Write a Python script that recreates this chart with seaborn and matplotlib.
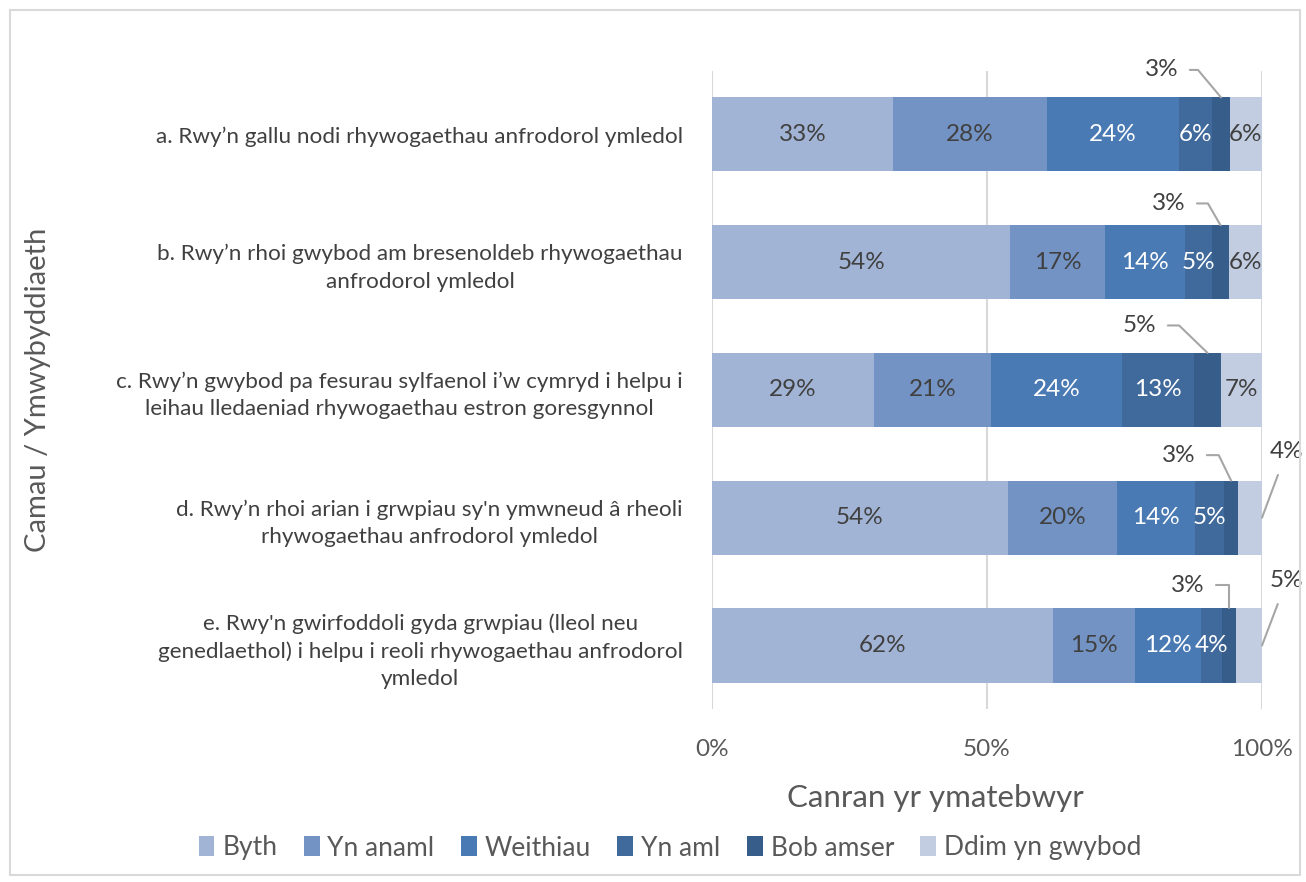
import matplotlib
matplotlib.use("Agg")
import matplotlib.pyplot as plt
import seaborn as sns
import numpy as np
import pandas as pd
from matplotlib.patches import Patch, Rectangle

categories = [
    "a. Rwy’n gallu nodi rhywogaethau anfrodorol ymledol",
    "b. Rwy’n rhoi gwybod am bresenoldeb rhywogaethau\nanfrodorol ymledol",
    "c. Rwy’n gwybod pa fesurau sylfaenol i’w cymryd i helpu i\nleihau lledaeniad rhywogaethau estron goresgynnol",
    "d. Rwy’n rhoi arian i grwpiau sy'n ymwneud â rheoli\nrhywogaethau anfrodorol ymledol",
    "e. Rwy'n gwirfoddoli gyda grwpiau (lleol neu\ngenedlaethol) i helpu i reoli rhywogaethau anfrodorol\nymledol",
]
series_names = ["Byth", "Yn anaml", "Weithiau", "Yn aml", "Bob amser", "Ddim yn gwybod"]
byth = [32.9, 54.2, 29.4, 53.8, 62.0]
yn_anaml = [28.0, 17.3, 21.4, 19.8, 14.9]
weithiau = [24.1, 14.5, 23.7, 14.2, 12.0]
yn_aml = [6.0, 4.9, 13.1, 5.3, 3.8]
bob_amser = [3.1, 3.1, 5.0, 2.6, 2.6]
ddim = [5.9, 6.0, 7.4, 4.3, 4.7]
colors = ["#A2B4D5", "#7393C4", "#4A7AB4", "#416A9C", "#375D8A", "#C2CDE2"]
label_colors = ["#404040", "#404040", "white", "white", None, "#404040"]
xticks = [0, 50, 100]
xtick_labels = ["0%", "50%", "100%"]

series = [byth, yn_anaml, weithiau, yn_aml, bob_amser, ddim]
FONT = "Lato"
plt.rcParams["font.family"] = [FONT, "DejaVu Sans"]

fig = plt.figure(figsize=(13.06, 8.82), dpi=100)
ax = fig.add_axes([0.5452, 0.1957, 0.4211, 0.7243])

vals = np.array(series)  # (6, 5)
cum = np.cumsum(vals, axis=0)
for i in range(len(series) - 1, -1, -1):
    df = pd.DataFrame({"cat": categories, "v": cum[i]})
    sns.barplot(data=df, x="v", y="cat", orient="h", color=colors[i], saturation=1,
                width=0.58, ax=ax, linewidth=0, zorder=2)

ax.set_xlim(0, 100)
ax.set_ylim(4.5, -0.5)
ax.set_xticks(xticks)
ax.set_xticklabels(xtick_labels, fontsize=17.5, color="#595959")
ax.tick_params(axis="x", length=0, pad=21)
ax.tick_params(axis="y", length=0, pad=21)
for lab in ax.get_yticklabels():
    lab.set_fontsize(16.2)
    lab.set_color("#404040")
    lab.set_multialignment("center")
    lab.set_linespacing(1.45)
ax.grid(axis="x", color="#D9D9D9", linewidth=1.5, zorder=0)
ax.set_axisbelow(True)
for s in ax.spines.values():
    s.set_visible(False)
ax.set_xlabel("Canran yr ymatebwyr", fontsize=22.5, color="#595959")
ax.xaxis.set_label_coords((935 - 712) / 550, -(784 - 709) / 640, transform=ax.transAxes)
ax.set_ylabel("")
fig.text(38 / 1306, 1 - 390 / 882, "Camau / Ymwybyddiaeth", rotation=90, ha="center",
         va="center", fontsize=21, color="#595959")

# in-bar labels
for i in range(len(series)):
    for j in range(len(categories)):
        v = vals[i, j]
        start = cum[i, j] - v
        if label_colors[i] is None:
            continue
        if i == 5 and j >= 3:
            continue
        ax.text(start + v / 2, j, f"{v:.0f}%", ha="center", va="center",
                fontsize=17.5, color=label_colors[i], zorder=3)

# leader-line labels for Bob amser
lead_text_pos = [(81.8, -0.505), (83.1, 0.54), (77.8, 1.495), (84.9, 2.51), (86.5, 3.53)]
lead_angles = [130, 120, 136, 116, 90]
for j in range(len(categories)):
    v = vals[4, j]
    xc = cum[4, j] - v / 2
    ax.annotate(f"{v:.0f}%", xy=(xc, j - 0.29), xytext=lead_text_pos[j],
                ha="center", va="center", fontsize=17.5, color="#404040",
                annotation_clip=False,
                arrowprops=dict(arrowstyle="-", color="#A6A6A6", lw=1.5,
                                shrinkA=6, shrinkB=0,
                                connectionstyle=f"angle,angleA=0,angleB={lead_angles[j]},rad=0"))
# leader-line labels for Ddim yn gwybod (rows d, e)
for j, pos in [(3, (104.5, 2.48)), (4, (104.5, 3.49))]:
    v = vals[5, j]
    ax.annotate(f"{v:.0f}%", xy=(100, j), xytext=pos, ha="center", va="center",
                fontsize=17.5, color="#404040", annotation_clip=False,
                arrowprops=dict(arrowstyle="-", color="#A6A6A6", lw=1.5,
                                shrinkA=8, shrinkB=0))

handles = [Patch(facecolor=c, edgecolor="none") for c in colors]
fig.legend(handles, series_names, loc="center", bbox_to_anchor=(670 / 1306, 1 - 848 / 882),
           ncol=6, frameon=False, fontsize=19, handlelength=0.6, handleheight=0.8,
           handletextpad=0.3, columnspacing=1.0, labelcolor="#595959")

fig.patches.append(Rectangle((10 / 1306, 1 - 875 / 882), 1290 / 1306, 865 / 882,
                             transform=fig.transFigure, fill=False,
                             edgecolor="#D9D9D9", linewidth=1.5))

fig.savefig("out.png", dpi=100, facecolor="white")
